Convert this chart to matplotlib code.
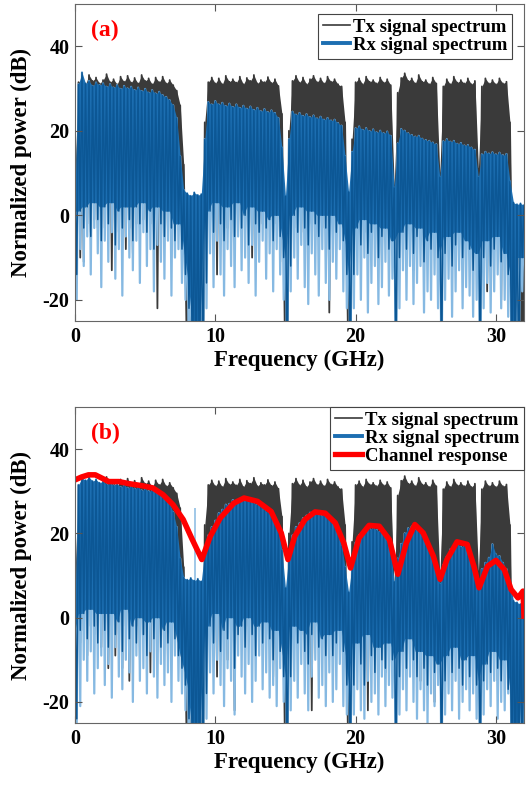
import numpy as np
import matplotlib
matplotlib.use('Agg')
import matplotlib.pyplot as plt
from matplotlib.lines import Line2D

plt.rcParams['font.family'] = 'Liberation Serif'
plt.rcParams['font.weight'] = 'bold'
plt.rcParams['axes.unicode_minus'] = False

# spectra sampled every 0.25 GHz (0 ... 32 GHz); -40 dB means below the plot floor
freq = np.arange(129) * 0.25

# Tx spectrum, peak envelope (same transmit signal in both panels)
tx_top = [
    10.0, 31.5, 32.4, 31.0, 33.2, 31.8, 32.6, 31.2,
    32.0, 33.4, 31.5, 32.2, 31.0, 32.8, 31.6, 33.0,
    31.4, 32.5, 31.2, 33.2, 31.8, 32.4, 31.0, 32.6,
    31.5, 32.8, 31.2, 32.0, 30.8, 29.5, 26.0, 12.0,
    -40, -40, -40, -40, -40, 22.0, 31.5, 32.6,
    31.2, 32.4, 31.0, 33.0, 31.6, 32.2, 31.4, 32.8,
    31.0, 32.5, 31.8, 33.2, 31.2, 32.0, 31.5, 32.7,
    31.3, 32.2, 30.6, 24.0, -40, 20.0, 31.8, 33.0,
    31.4, 32.6, 31.0, 32.2, 33.0, 31.5, 32.4, 31.2,
    32.8, 31.6, 32.2, 31.0, 30.5, 22.0, -40, 18.0,
    31.5, 32.4, 31.0, 32.8, 31.6, 32.0, 31.2, 32.6,
    31.4, 32.2, 30.8, 7.0, 29.0, 32.5, 33.6, 31.8,
    32.4, 31.2, 33.2, 31.6, 32.0, 31.0, 32.6, 31.2,
    10.0, 30.5, 32.2, 31.0, 32.8, 31.4, 32.0, 31.2,
    32.4, 31.0, 31.8, 11.0, 30.5, 32.4, 31.2, 32.0,
    31.0, 32.4, 31.2, 31.6, 22.0, -40, -40, -40,
    -40]

# ---- panel (a) ----
tx_a_low = [
    -12, -10, -11, -2, -4, -1, -3, -2,
    -3, -2, -13, -1, -4, -2, -8, -3,
    -9, -2, -3, -1, -4, -2, -3, -22,
    -9, -2, -4, -1, -3, -2, -5, -10,
    -40, -40, -40, -40, -40, -8, -3, -2,
    -14, -2, -8, -3, -7, -1, -4, -2,
    -3, -2, -10, -1, -4, -2, -3, -1,
    -4, -2, -11, -6, -40, -8, -3, -2,
    -4, -1, -3, -2, -5, -1, -3, -2,
    -23, -2, -4, -1, -3, -8, -40, -8,
    -3, -2, -4, -1, -3, -2, -5, -12,
    -3, -2, -4, -10, -6, -3, -2, -4,
    -13, -2, -4, -1, -3, -2, -5, -3,
    -12, -4, -2, -3, -1, -4, -2, -3,
    -2, -4, -3, -12, -5, -18, -2, -3,
    -4, -20, -3, -2, -10, -40, -40, -40,
    -40]

rx_a_top = [
    6.0, 31.0, 33.8, 31.2, 31.8, 30.6, 31.4, 30.8,
    31.2, 30.4, 31.0, 30.2, 30.8, 29.9, 30.6, 30.0,
    30.4, 29.6, 30.2, 29.4, 29.9, 29.0, 29.6, 28.8,
    29.2, 28.4, 28.0, 27.2, 26.0, 23.0, 14.0, 6.0,
    5.2, 4.6, 5.4, 4.8, 5.0, 18.0, 26.8, 26.2,
    27.0, 26.2, 26.6, 25.8, 26.4, 25.6, 26.2, 25.4,
    25.9, 25.2, 25.7, 24.9, 25.4, 24.6, 25.1, 24.4,
    24.8, 24.2, 23.0, 16.0, 4.5, 18.0, 24.5, 23.8,
    24.2, 23.5, 23.9, 23.2, 23.6, 22.9, 23.3, 22.6,
    23.0, 22.4, 22.6, 21.8, 21.2, 14.0, 5.5, 15.0,
    20.6, 21.0, 20.2, 20.6, 19.9, 20.3, 19.6, 20.0,
    19.4, 19.8, 18.8, 6.5, 17.0, 20.4, 20.0, 19.4,
    19.0, 18.6, 18.8, 18.1, 17.8, 17.6, 17.2, 16.8,
    9.0, 17.5, 18.0, 17.4, 17.6, 16.9, 17.1, 16.5,
    16.6, 16.0, 15.5, 9.0, 14.4, 15.0, 14.6, 14.9,
    14.4, 14.8, 14.2, 14.5, 8.0, 3.0, 2.6, 2.8,
    2.4]

rx_a_dense = [
    -14, 1, -3, 2, -5, 3, -1, -6,
    2, -2, 3, -7, 1, -3, 2, -1,
    -6, 2, -2, 3, -4, 1, -8, 2,
    -2, -5, 1, -3, -6, -2, -8, -14,
    -22, -40, -40, -40, -40, -16, 1, -4,
    3, -2, -6, 2, -1, -5, 3, -3,
    0, -7, 2, -2, -4, 1, -3, -1,
    -6, 0, -5, -10, -40, -12, 0, -4,
    2, -3, -7, 1, -2, -5, 0, -3,
    -8, 0, -4, -2, -6, -14, -40, -14,
    -3, -7, -1, -9, -4, -2, -10, -5,
    -3, -8, -6, -40, -10, -4, -8, -2,
    -9, -5, -3, -11, -6, -8, -4, -10,
    -40, -9, -5, -12, -7, -4, -10, -6,
    -8, -13, -9, -40, -10, -6, -12, -8,
    -5, -11, -9, -14, -40, -40, -40, -10,
    -12]

rx_a_low = [
    -20, -8, -12, -5, -14, -3, -9, -17,
    -6, -11, -4, -15, -8, -19, -5, -10,
    -13, -6, -16, -4, -12, -8, -18, -7,
    -11, -15, -6, -19, -10, -8, -16, -20,
    -40, -40, -40, -40, -40, -22, -9, -17,
    -6, -14, -19, -8, -12, -17, -5, -13,
    -10, -16, -7, -19, -11, -6, -15, -9,
    -18, -8, -14, -20, -40, -18, -10, -15,
    -7, -17, -21, -9, -14, -19, -8, -16,
    -20, -11, -15, -8, -18, -22, -40, -22,
    -14, -20, -10, -23, -16, -12, -21, -17,
    -11, -19, -15, -40, -22, -13, -20, -12,
    -21, -16, -12, -23, -18, -20, -14, -22,
    -40, -20, -15, -24, -18, -13, -22, -17,
    -19, -24, -20, -40, -22, -16, -23, -18,
    -14, -22, -20, -24, -40, -40, -40, -18,
    -22]

# ---- panel (b) ----
tx_b_low = [
    -24, -6, -3, -9, -2, -4, -2, -7,
    -3, -12, -2, -9, -4, -12, -2, -15,
    -3, -2, -10, -4, -2, -13, -3, -2,
    -9, -3, -10, -2, -4, -3, -6, -10,
    -40, -40, -40, -40, -40, -8, -3, -2,
    -14, -3, -2, -10, -4, -22, -2, -3,
    -8, -2, -4, -1, -3, -2, -4, -3,
    -14, -2, -4, -6, -40, -8, -2, -3,
    -4, -2, -3, -22, -2, -4, -3, -9,
    -2, -4, -3, -1, -4, -8, -40, -8,
    -3, -2, -4, -22, -2, -4, -3, -2,
    -13, -2, -4, -10, -6, -3, -2, -4,
    -3, -2, -15, -4, -3, -2, -20, -3,
    -12, -4, -2, -3, -1, -4, -2, -3,
    -2, -4, -3, -12, -5, -3, -2, -3,
    -15, -4, -3, -2, -10, -40, -40, -40,
    -40]

rx_b_top = [
    4.0, 31.5, 33.2, 32.6, 33.4, 32.4, 32.8, 32.0,
    32.4, 31.6, 32.0, 31.4, 31.8, 31.0, 31.5, 30.8,
    31.2, 30.6, 31.0, 30.2, 30.6, 30.0, 30.3, 29.6,
    29.8, 29.0, 28.4, 27.0, 25.0, 21.5, 14.0, 9.5,
    9.0, 9.4, 8.8, 9.2, 8.6, 16.0, 19.5, 21.5,
    23.0, 24.8, 25.6, 26.8, 27.0, 27.9, 27.4, 28.0,
    27.6, 28.1, 27.4, 27.2, 26.8, 26.4, 25.6, 25.0,
    24.2, 23.0, 21.0, 16.0, 7.0, 15.0, 19.5, 21.5,
    22.4, 23.6, 24.2, 24.9, 24.4, 24.9, 24.2, 24.5,
    23.6, 23.2, 22.0, 20.0, 17.0, 12.0, 6.0, 12.5,
    17.8, 19.6, 20.4, 21.2, 21.0, 21.4, 20.8, 20.4,
    19.5, 18.2, 15.5, 8.5, 14.0, 17.5, 20.0, 21.2,
    21.6, 20.8, 20.6, 19.2, 17.6, 16.0, 13.2, 11.0,
    8.0, 12.5, 14.5, 16.2, 17.0, 17.6, 16.8, 17.2,
    16.0, 14.0, 11.0, 7.0, 11.5, 13.0, 14.2, 17.4,
    15.0, 14.6, 13.0, 11.5, 8.5, 4.0, 3.6, 3.2,
    3.0]

rx_b_dense = [
    -24, -3, 1, -5, 2, -2, -6, 1,
    -3, -7, 1, -4, -1, -8, 2, -5,
    -2, -6, 0, -4, -9, -1, -5, 0,
    -7, -3, -6, -1, -5, -9, -12, -16,
    -24, -40, -40, -40, -40, -18, -2, -6,
    1, -8, -3, -5, 0, -12, -4, -2,
    -7, 0, -4, -9, -2, -6, -1, -5,
    -10, -3, -8, -14, -40, -14, -2, -6,
    -3, -8, -11, -4, -1, -7, -5, -9,
    -4, -9, -6, -3, -8, -16, -40, -16,
    -6, -11, -16, -4, -9, -13, -7, -10,
    -12, -6, -10, -40, -14, -8, -12, -5,
    -10, -14, -8, -12, -16, -9, -13, -11,
    -40, -15, -9, -13, -7, -12, -16, -10,
    -14, -9, -16, -40, -15, -11, -13, -8,
    -12, -15, -10, -17, -40, -40, -40, -40,
    -20]

rx_b_low = [
    -26, -21, -10, -15, -8, -18, -12, -9,
    -16, -11, -19, -7, -14, -17, -10, -13,
    -20, -9, -15, -12, -18, -8, -14, -19,
    -11, -16, -13, -20, -9, -15, -18, -22,
    -40, -40, -40, -40, -40, -24, -13, -18,
    -10, -16, -21, -12, -15, -23, -9, -14,
    -18, -11, -20, -15, -9, -17, -13, -19,
    -16, -21, -12, -20, -40, -22, -15, -19,
    -11, -18, -22, -14, -10, -19, -16, -21,
    -13, -20, -17, -11, -21, -23, -40, -23,
    -17, -22, -24, -15, -20, -18, -23, -14,
    -21, -16, -19, -40, -23, -17, -22, -14,
    -20, -24, -17, -22, -25, -18, -21, -16,
    -40, -23, -18, -22, -15, -24, -20, -17,
    -22, -18, -24, -40, -23, -17, -21, -15,
    -24, -20, -22, -18, -40, -40, -40, -40,
    -25]

# isolated Rx spike inside the first guard band
rx_b_spike_f = [8.55]
rx_b_spike_base = [8.0]
rx_b_spike_top = [26.0]

# estimated channel response
ch_freq = [0, 0.48, 0.96, 1.45, 1.93, 2.41, 3.13, 3.86, 4.82, 5.54,
           6.27, 6.99, 7.71, 8.31, 9.04, 9.64, 10.36, 11.33, 12.05, 13.01,
           13.98, 14.7, 15.18, 15.66, 16.39, 17.11, 17.83, 18.55, 19.16, 19.64,
           20.24, 20.96, 21.69, 22.41, 23.01, 23.61, 24.22, 24.82, 25.54, 26.02,
           26.51, 27.23, 27.95, 28.43, 28.8, 29.4, 30.0, 30.6, 31.08, 31.57,
           31.93, 32.0]
ch_db = [32.7, 33.4, 33.9, 33.9, 33.1, 32.3, 32.3, 31.8, 31.3, 30.8,
         29.2, 26.8, 23.3, 18.9, 13.8, 19.3, 23.7, 27.2, 28.4, 27.6,
         25.2, 20.1, 13.8, 19.3, 23.3, 25.1, 24.8, 22.5, 17.7, 11.8,
         18.9, 21.9, 21.7, 18.5, 10.3, 17.7, 22.1, 20.1, 14.6, 9.1,
         13.8, 18.0, 17.4, 12.2, 7.1, 12.2, 13.6, 11.4, 6.7, 4.7,
         6.3, 0.4]

TX_COLOR = '#3a3a3a'
RX_COLOR = '#1c6eb1'
RX_DARK = '#0c5795'
RX_LIGHT = '#86b9e2'
CH_COLOR = '#ff0000'


def zigzag(top, bottom):
    # alternate peak / trough samples so the trace swings like a dense spectrum
    x = np.empty(2 * len(freq))
    y = np.empty(2 * len(freq))
    x[0::2] = freq
    x[1::2] = freq + 0.125
    y[0::2] = top
    y[1::2] = bottom
    return x, y


def solid_floor(trough):
    # the trace is continuous down to the shallowest of neighbouring troughs
    t = np.asarray(trough, dtype=float)
    return np.maximum.reduce([np.roll(t, 1), t, np.roll(t, -1)])


def draw_spectra(ax, tx_low, rx_top, rx_dense, rx_low):
    core = solid_floor(rx_dense)
    # Tx: solid body plus its deep dips
    ax.fill_between(freq, tx_top, core, color=TX_COLOR, lw=0, zorder=1.0)
    ax.plot(*zigzag(tx_top, tx_low), color=TX_COLOR, lw=1.3, zorder=1.1)
    # Rx: faint deep dips first, then the dense body over them
    ax.plot(*zigzag(rx_top, rx_low), color=RX_LIGHT, lw=1.6, zorder=1.2)
    ax.fill_between(freq, rx_top, core, color=RX_COLOR, lw=0, zorder=1.3)
    ax.plot(*zigzag(rx_top, rx_dense), color=RX_DARK, lw=1.1, zorder=1.4)


def style_axes(ax, tag):
    ax.set_xlim(0, 32)
    ax.set_ylim(-25, 50)
    ax.set_xticks([0, 10, 20, 30])
    ax.set_yticks([-20, 0, 20, 40])
    ax.tick_params(direction='in', top=True, right=True, length=5, width=0.8,
                   color='#555555', labelsize=14.5, pad=4)
    for s in ax.spines.values():
        s.set_color('#666666')
        s.set_linewidth(0.8)
        s.set_zorder(3)
    ax.set_xlabel('Frequency (GHz)', fontsize=16.5, fontweight='bold', labelpad=2)
    ax.set_ylabel('Normalized power (dB)', fontsize=16.5, fontweight='bold')
    ax.yaxis.set_label_coords(-0.095, 0.5)
    ax.text(0.036, 0.915, tag, transform=ax.transAxes, color='red',
            fontsize=17, fontweight='bold', va='center', ha='left', zorder=4)


fig = plt.figure(figsize=(5.31, 7.85), dpi=100)
ax_a = fig.add_axes([0.1412, 0.5911, 0.8456, 0.4038])
ax_b = fig.add_axes([0.1412, 0.0790, 0.8456, 0.4025])

h_tx = Line2D([], [], color=TX_COLOR, lw=1.2)
h_rx = Line2D([], [], color=RX_COLOR, lw=2.8)
h_ch = Line2D([], [], color=CH_COLOR, lw=3.8)
leg_kw = dict(fontsize=13.5, frameon=True, fancybox=False, framealpha=1,
              edgecolor='#444444', labelspacing=0.05, handlelength=1.45,
              handletextpad=0.15, borderpad=0.25, borderaxespad=0)

# (a) Tx and Rx spectra
draw_spectra(ax_a, tx_a_low, rx_a_top, rx_a_dense, rx_a_low)
style_axes(ax_a, '(a)')
leg = ax_a.legend([h_tx, h_rx], ['Tx signal spectrum', 'Rx signal spectrum'],
                  loc='upper right', bbox_to_anchor=(0.973, 0.968), **leg_kw)
leg.get_frame().set_linewidth(0.8)
leg.set_zorder(5)

# (b) spectra with the channel response on top
draw_spectra(ax_b, tx_b_low, rx_b_top, rx_b_dense, rx_b_low)
ax_b.vlines(rx_b_spike_f, rx_b_spike_base, rx_b_spike_top, color=RX_LIGHT, lw=1.1, zorder=1.25)
ax_b.plot(ch_freq, ch_db, color=CH_COLOR, lw=4.0, solid_joinstyle='round', zorder=2.5)
style_axes(ax_b, '(b)')
leg = ax_b.legend([h_tx, h_rx, h_ch],
                  ['Tx signal spectrum', 'Rx signal spectrum', 'Channel response'],
                  loc='upper right', bbox_to_anchor=(1.0, 1.0), **leg_kw)
leg.get_frame().set_linewidth(0.8)
leg.set_zorder(5)

fig.savefig('out.png', dpi=100)
